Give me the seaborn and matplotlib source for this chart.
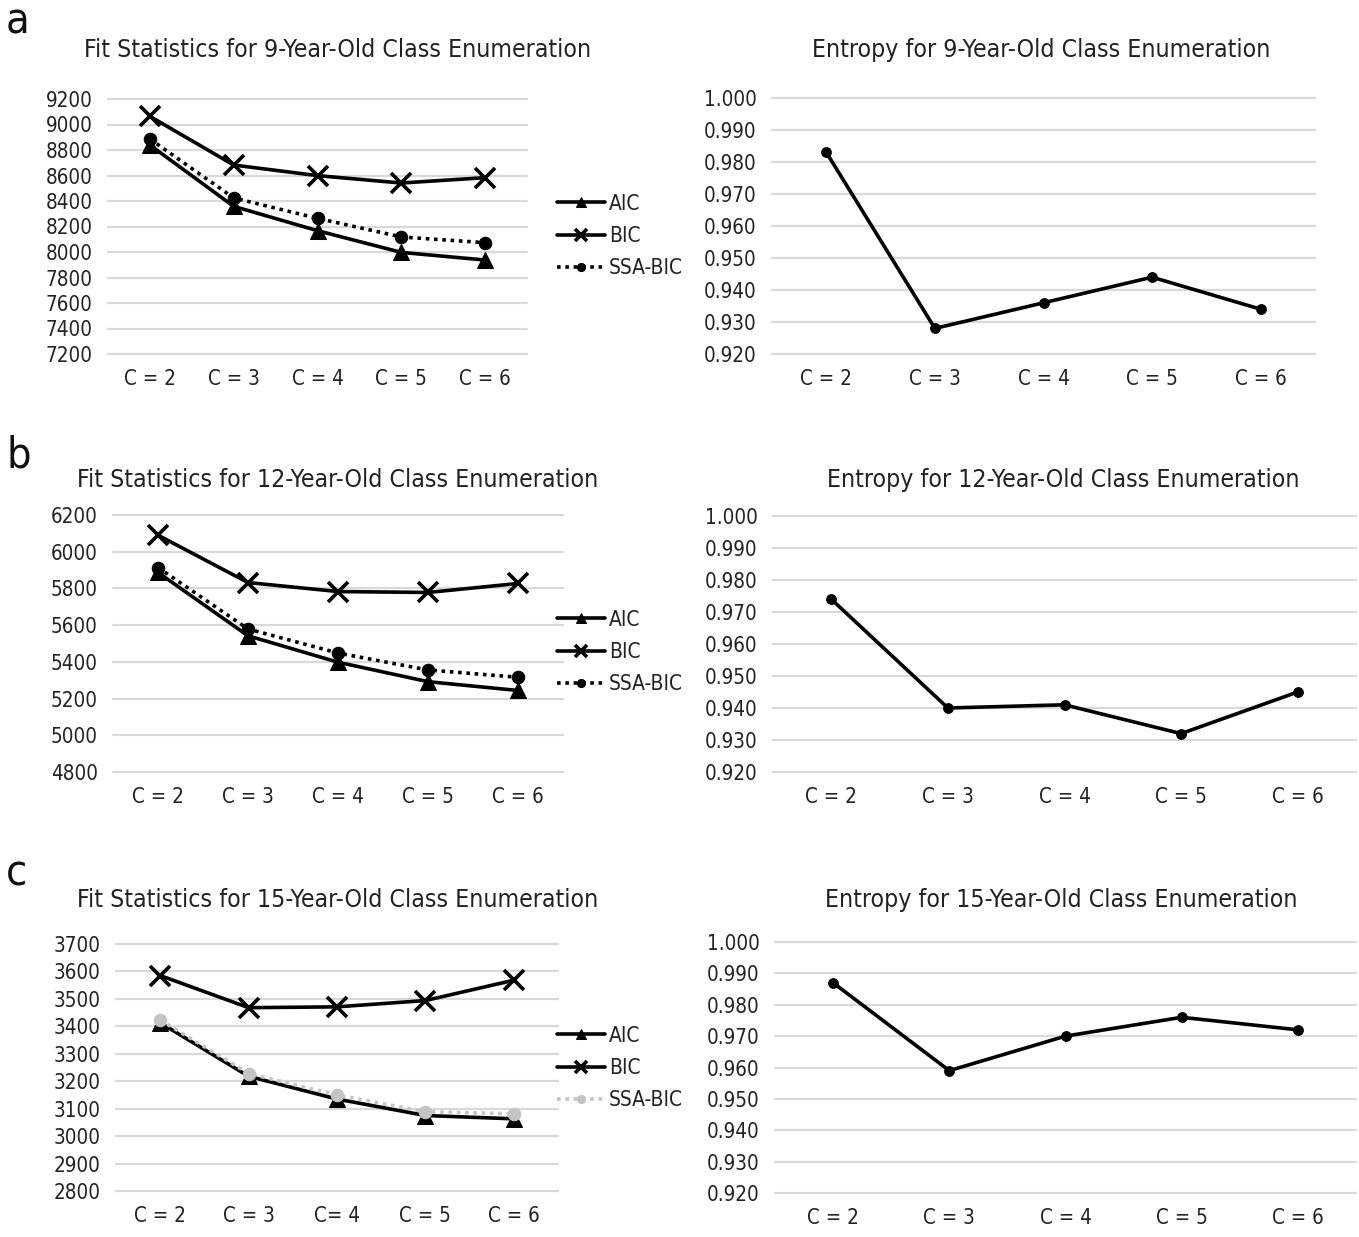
import matplotlib
matplotlib.use("Agg")
import matplotlib.pyplot as plt
import matplotlib.ticker as mticker
from matplotlib import font_manager
import seaborn as sns

# categories
classes = ["C = 2", "C = 3", "C = 4", "C = 5", "C = 6"]
classes_c = ["C = 2", "C = 3", "C= 4", "C = 5", "C = 6"]  # as printed in panel c

# 9-year-olds
aic_9 = [8839, 8358, 8167, 7997, 7937]
bic_9 = [9064, 8682, 8599, 8541, 8583]
ssa_9 = [8886, 8424, 8264, 8118, 8073]
ent_9 = [0.983, 0.928, 0.936, 0.944, 0.934]

# 12-year-olds
aic_12 = [5887, 5542, 5398, 5292, 5244]
bic_12 = [6090, 5832, 5783, 5778, 5827]
ssa_12 = [5914, 5579, 5448, 5356, 5316]
ent_12 = [0.974, 0.940, 0.941, 0.932, 0.945]

# 15-year-olds
aic_15 = [3413, 3218, 3135, 3075, 3063]
bic_15 = [3585, 3468, 3471, 3494, 3568]
ssa_15 = [3423, 3228, 3150, 3089, 3081]
ent_15 = [0.987, 0.959, 0.970, 0.976, 0.972]

titles_fit = ["Fit Statistics for 9-Year-Old Class Enumeration",
              "Fit Statistics for 12-Year-Old Class Enumeration",
              "Fit Statistics for 15-Year-Old Class Enumeration"]
titles_ent = ["Entropy for 9-Year-Old Class Enumeration",
              "Entropy for 12-Year-Old Class Enumeration",
              "Entropy for 15-Year-Old Class Enumeration"]
panel_letters = ["a", "b", "c"]

sns.set_style("white")

# the original uses a condensed grotesque; pick the narrowest installed option
fonts = font_manager.fontManager.ttflist
names = {f.name for f in fonts}
if "Liberation Sans Narrow" in names:
    plt.rcParams["font.family"] = ["Liberation Sans Narrow", "DejaVu Sans"]
elif any(f.name == "DejaVu Sans" and "ondensed" in f.fname for f in fonts):
    plt.rcParams["font.family"] = ["DejaVu Sans"]
    plt.rcParams["font.stretch"] = "condensed"
else:
    plt.rcParams["font.family"] = ["Roboto", "DejaVu Sans"]

W, H = 1359, 1237
fig = plt.figure(figsize=(W / 100, H / 100), dpi=100)


def box(x0, x1, ytop, ybot):
    return [x0 / W, 1 - ybot / H, (x1 - x0) / W, (ybot - ytop) / H]


GRID = "#d9d9d9"
TICK_FS = 14.8
TEXT = "#222222"


def style_axes(ax, ylo, yhi, step, fmt, labels):
    ax.set_xlim(-0.5, 4.5)
    ax.set_ylim(ylo, yhi)
    ax.yaxis.set_major_locator(mticker.MultipleLocator(step))
    ax.yaxis.set_major_formatter(mticker.FormatStrFormatter(fmt))
    ax.set_xticks(range(5))
    ax.set_xticklabels(labels)
    ax.yaxis.grid(True, color=GRID, lw=1.6)
    ax.xaxis.grid(False)
    for ln in ax.get_ygridlines():
        ln.set_clip_on(False)
    for s in ax.spines.values():
        s.set_visible(False)
    ax.tick_params(axis="y", length=0, pad=11, labelsize=TICK_FS, colors=TEXT)
    ax.tick_params(axis="x", length=0, pad=11, labelsize=TICK_FS, colors=TEXT)
    ax.set_xlabel("")
    ax.set_ylabel("")


def fit_panel(ax, aic, bic, ssa, ssa_color, ylo, yhi, step, labels, legend_y):
    sns.lineplot(x=classes, y=aic, ax=ax, sort=False, color="black", lw=2.6,
                 marker="^", markersize=11, markeredgecolor="black",
                 label="AIC", clip_on=False)
    sns.lineplot(x=classes, y=bic, ax=ax, sort=False, color="black", lw=2.6,
                 marker="x", markersize=14, markeredgewidth=2.6, markeredgecolor="black",
                 label="BIC", clip_on=False)
    sns.lineplot(x=classes, y=ssa, ax=ax, sort=False, color=ssa_color, lw=2.6,
                 linestyle=(0, (1, 1.3)), marker="o", markersize=9,
                 markeredgecolor=ssa_color, label="SSA-BIC", clip_on=False)
    style_axes(ax, ylo, yhi, step, "%d", labels)
    handles, names_ = ax.get_legend_handles_labels()
    ax.legend_.remove()
    fig.legend(handles, names_, loc="center left", bbox_to_anchor=(557 / W, 1 - legend_y / H),
               bbox_transform=fig.transFigure, frameon=False, fontsize=15,
               handlelength=2.3, handletextpad=0.2, labelspacing=0.6, borderpad=0,
               borderaxespad=0, markerscale=0.65, labelcolor=TEXT)


def ent_panel(ax, ent):
    sns.lineplot(x=classes, y=ent, ax=ax, sort=False, color="black", lw=2.6,
                 marker="o", markersize=7, markeredgecolor="black", clip_on=False)
    style_axes(ax, 0.92, 1.0, 0.01, "%.3f", classes)


fit_data = [(aic_9, bic_9, ssa_9, "black", 7200, 9200, 200, classes),
            (aic_12, bic_12, ssa_12, "black", 4800, 6200, 200, classes),
            (aic_15, bic_15, ssa_15, "#c4c4c4", 2800, 3700, 100, classes_c)]
ent_data = [ent_9, ent_12, ent_15]

left_boxes = [box(108, 527, 99, 354), box(113, 563, 515, 772), box(116, 558, 944, 1191)]
right_boxes = [box(772, 1315, 98, 354), box(773, 1356, 516, 772), box(775, 1356, 942, 1193)]
legend_ys = [236, 652, 1068]
title_ys = [50, 480, 900]
title_left_x = [338, 338, 338]
title_right_x = [1041, 1063, 1061]
letter_ys = [33, 468, 886]

for i in range(3):
    axl = fig.add_axes(left_boxes[i])
    aic, bic, ssa, col, ylo, yhi, step, labs = fit_data[i]
    fit_panel(axl, aic, bic, ssa, col, ylo, yhi, step, labs, legend_ys[i])
    axr = fig.add_axes(right_boxes[i])
    ent_panel(axr, ent_data[i])
    fig.text(title_left_x[i] / W, 1 - title_ys[i] / H, titles_fit[i], ha="center",
             va="center", fontsize=17.8, color=TEXT)
    fig.text(title_right_x[i] / W, 1 - title_ys[i] / H, titles_ent[i], ha="center",
             va="center", fontsize=17.8, color=TEXT)
    fig.text(6 / W, 1 - letter_ys[i] / H, panel_letters[i], ha="left", va="baseline",
             fontsize=31, color="#111111")

fig.savefig("out.png", dpi=100)
